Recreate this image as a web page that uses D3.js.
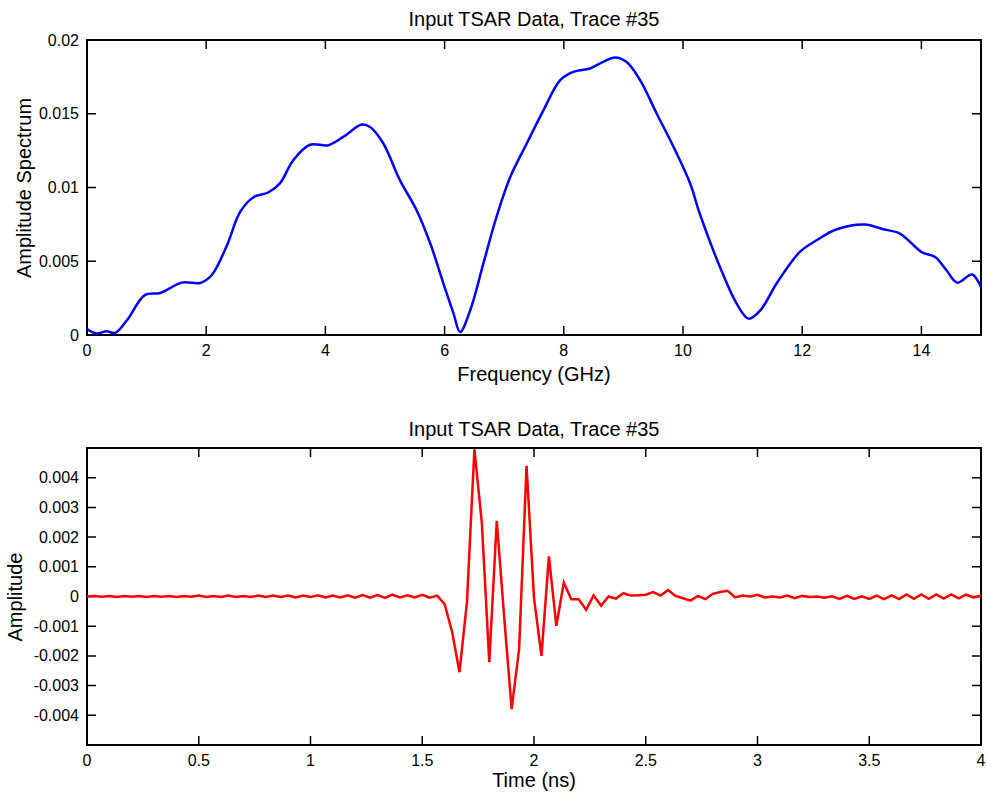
<!DOCTYPE html>
<html>
<head>
<meta charset="utf-8">
<script src="https://cdn.jsdelivr.net/npm/d3@7"></script>
<style>
  body { margin: 0; background: #fff; }
  text { font-family: "Liberation Sans", Arial, sans-serif; fill: #000; }
</style>
</head>
<body>
<svg id="chart" width="987" height="793"></svg>
<script>
// data
TITLE = "Input TSAR Data, Trace #35"

FREQ = [0, 0.16, 0.33, 0.47, 0.67, 0.97, 1.23, 1.59, 1.9, 2.09, 2.34, 2.57, 2.8, 3.04, 3.24, 3.46, 3.74, 4.05, 4.3, 4.61, 4.75, 4.97, 5.25, 5.53, 5.76, 5.98, 6.15, 6.26, 6.43, 6.65, 6.87, 7.1, 7.38, 7.66, 7.94, 8.16, 8.44, 8.66, 8.86, 9.05, 9.28, 9.56, 9.84, 10.12, 10.28, 10.62, 10.9, 11.1, 11.3, 11.57, 11.96, 12.24, 12.58, 13.05, 13.36, 13.64, 14.0, 14.23, 14.42, 14.6, 14.85, 15]
SPECTRUM = [0.0004, 0.0001, 0.00025, 0.00014, 0.001, 0.0027, 0.00285, 0.00355, 0.00353, 0.00405, 0.006, 0.00835, 0.00936, 0.00966, 0.0103, 0.01185, 0.0129, 0.01287, 0.01343, 0.01427, 0.0141, 0.013, 0.0105, 0.00846, 0.0062, 0.00349, 0.00145, 0.0002, 0.00168, 0.00484, 0.008, 0.0107, 0.013, 0.01525, 0.01728, 0.01784, 0.01807, 0.01852, 0.01882, 0.01852, 0.01728, 0.015, 0.01276, 0.01027, 0.00824, 0.00461, 0.00213, 0.00111, 0.00168, 0.00349, 0.00563, 0.00642, 0.00717, 0.00749, 0.00717, 0.00688, 0.00563, 0.00529, 0.00439, 0.00355, 0.0041, 0.00326]

// trace sampled every 1/30 ns, 0..4 ns
DT = 1 / 30
TRACE = [
  0.00000, 0.00002, -0.00001, 0.00002, -0.00002, 0.00002, -0.00001, 0.00002, -0.00002, 0.00002,
  -0.00001, 0.00002, -0.00002, 0.00002, -0.00001, 0.00003, -0.00002, 0.00002, -0.00002, 0.00003,
  -0.00002, 0.00002, -0.00002, 0.00003, -0.00002, 0.00003, -0.00002, 0.00003, -0.00003, 0.00003,
  -0.00002, 0.00004, -0.00003, 0.00003, -0.00003, 0.00004, -0.00004, 0.00005, -0.00004, 0.00005,
  -0.00005, 0.00006, -0.00003, 0.00004, -0.00003, 0.00006, -0.00004, 0.00003, -0.00026, -0.00118,
  -0.00255, -0.00019, 0.00496, 0.00247, -0.00221, 0.00255, -0.0007, -0.00379, -0.00177, 0.0044,
  -0.00005, -0.002, 0.00135, -0.00099, 0.00047, -0.00009, -0.00009, -0.00045, 0.00004, -0.00031,
  0.00000, -0.00007, 0.00011, 0.00003, 0.00004, 0.00006, 0.00015, 0.00003, 0.00022, 0.00002,
  -0.00006, -0.00014, 0.00002, -0.00009, 0.00009, 0.00015, 0.00019, -0.00003, 0.00003, 0.00000,
  0.00006, -0.00003, 0.00000, -0.00003, 0.00003, -0.00006, 0.00002, -0.00002, 0.00000, -0.00004,
  0.00001, -0.00008, 0.00002, -0.00008, 0.00001, -0.00008, 0.00003, -0.00009, 0.00004, -0.00009,
  0.00007, -0.00008, 0.00007, -0.00008, 0.00007, -0.00007, 0.00007, -0.00006, 0.00006, -0.00003,
  0.00003
]

SPEC_YTICKS = [0, 0.005, 0.01, 0.015, 0.02]
SPEC_XTICKS = [0, 2, 4, 6, 8, 10, 12, 14]
TRACE_YTICKS = [-0.005, -0.004, -0.003, -0.002, -0.001, 0, 0.001, 0.002, 0.003, 0.004, 0.005]
TRACE_YLABELS = [-0.004, -0.003, -0.002, -0.001, 0, 0.001, 0.002, 0.003, 0.004]
TRACE_XTICKS = [0, 0.5, 1, 1.5, 2, 2.5, 3, 3.5, 4]

var svg = d3.select("#chart")
var left = 87, right = 981, TICK = 9
var mid = (left + right) / 2

// TOP PANEL

var x1 = d3.scaleLinear().domain([0, 15]).range([left, right])
var y1 = d3.scaleLinear().domain([0, 0.02]).range([335, 40])

draw_frame(svg, x1, y1, SPEC_XTICKS, SPEC_YTICKS, SPEC_YTICKS)

svg.append("defs").append("clipPath").attr("id", "clip1")
  .append("rect").attr("x", left).attr("y", 40).attr("width", right - left).attr("height", 295)

svg.append("path")
  .datum(FREQ.map(function(f, i){ return [f, SPECTRUM[i]] }))
  .attr("clip-path", "url(#clip1)")
  .attr("fill", "none")
  .attr("stroke", "#0000ff")
  .attr("stroke-width", 2.5)
  .attr("d", d3.line()
    .x(function(d){ return x1(d[0]) })
    .y(function(d){ return y1(d[1]) })
    .curve(d3.curveCatmullRom.alpha(0.5)))

svg.append("text").attr("x", mid).attr("y", 26)
  .attr("text-anchor", "middle").style("font-size", "20px").text(TITLE)
svg.append("text").attr("x", mid).attr("y", 381)
  .attr("text-anchor", "middle").style("font-size", "20px").text("Frequency (GHz)")
svg.append("text").attr("transform", "translate(31,188) rotate(-90)")
  .attr("text-anchor", "middle").style("font-size", "20px").text("Amplitude Spectrum")

// BOTTOM PANEL

var x2 = d3.scaleLinear().domain([0, 4]).range([left, right])
var y2 = d3.scaleLinear().domain([-0.005, 0.005]).range([745, 448])

draw_frame(svg, x2, y2, TRACE_XTICKS, TRACE_YTICKS, TRACE_YLABELS)

svg.select("defs").append("clipPath").attr("id", "clip2")
  .append("rect").attr("x", left).attr("y", 448).attr("width", right - left).attr("height", 297)

svg.append("path")
  .datum(TRACE)
  .attr("clip-path", "url(#clip2)")
  .attr("fill", "none")
  .attr("stroke", "#ff0000")
  .attr("stroke-width", 2.5)
  .attr("d", d3.line()
    .x(function(d, i){ return x2(i * DT) })
    .y(function(d){ return y2(d) }))

svg.append("text").attr("x", mid).attr("y", 436)
  .attr("text-anchor", "middle").style("font-size", "20px").text(TITLE)
svg.append("text").attr("x", mid).attr("y", 787)
  .attr("text-anchor", "middle").style("font-size", "20px").text("Time (ns)")
svg.append("text").attr("transform", "translate(22,597) rotate(-90)")
  .attr("text-anchor", "middle").style("font-size", "20px").text("Amplitude")


function fmt(d){
  return String(+d.toFixed(4))
}

function draw_frame(svg, x, y, xticks, yticks, ylabels){
  var x0 = x.range()[0], xr = x.range()[1]
  var yb = y.range()[0], yt = y.range()[1]
  var g = svg.append("g")

  // mirrored inward ticks
  g.selectAll(".xt").data(xticks).enter().append("path")
    .attr("d", function(d){
      return "M" + x(d) + "," + yb + "v" + (-TICK) + "M" + x(d) + "," + yt + "v" + TICK })
    .attr("stroke", "#000").attr("stroke-width", 1.5)
  g.selectAll(".yt").data(yticks).enter().append("path")
    .attr("d", function(d){
      return "M" + x0 + "," + y(d) + "h" + TICK + "M" + xr + "," + y(d) + "h" + (-TICK) })
    .attr("stroke", "#000").attr("stroke-width", 1.5)

  g.append("rect")
    .attr("x", x0).attr("y", yt).attr("width", xr - x0).attr("height", yb - yt)
    .attr("fill", "none").attr("stroke", "#000").attr("stroke-width", 2)

  g.selectAll(".xl").data(xticks).enter().append("text")
    .attr("x", function(d){ return x(d) })
    .attr("y", yb + 21)
    .attr("text-anchor", "middle").style("font-size", "16px")
    .text(fmt)
  g.selectAll(".yl").data(ylabels).enter().append("text")
    .attr("x", x0 - 8)
    .attr("y", function(d){ return y(d) + 5.5 })
    .attr("text-anchor", "end").style("font-size", "16px")
    .text(fmt)
}
</script>
</body>
</html>
